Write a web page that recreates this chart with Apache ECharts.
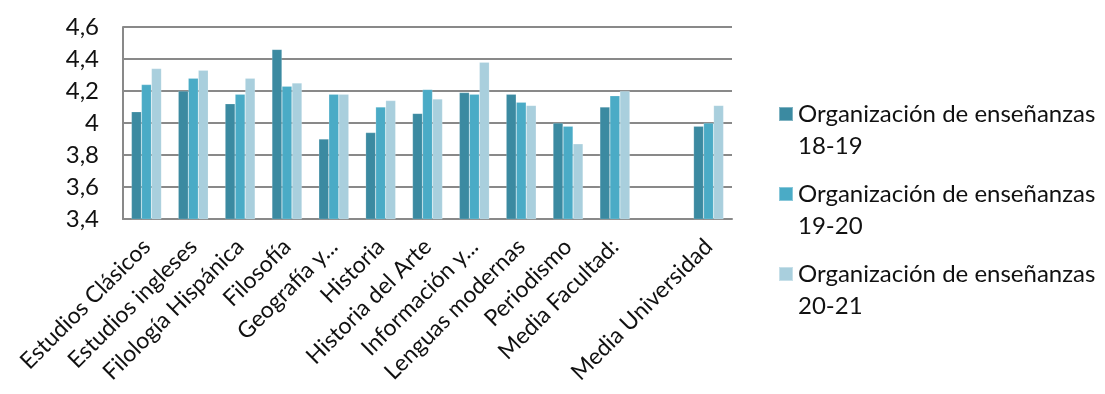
<!DOCTYPE html>
<html>
<head>
<meta charset="utf-8">
<script src="https://cdn.jsdelivr.net/npm/echarts@6/dist/echarts.min.js"></script>
<style>
html,body{margin:0;padding:0;background:#fff;}
#chart{width:1105px;height:394px;}
</style>
</head>
<body>
<div id="chart"></div>
<script>
const categories = ['Estudios Clásicos','Estudios ingleses','Filología Hispánica','Filosofía','Geografía y...','Historia','Historia del Arte','Información y...','Lenguas modernas','Periodismo','Media Facultad:','','Media Universidad'];
const seriesNames = ['Organización de enseñanzas 18-19','Organización de enseñanzas 19-20','Organización de enseñanzas 20-21'];
const values1819 = [4.07,4.20,4.12,4.46,3.90,3.94,4.06,4.19,4.18,4.00,4.10,null,3.98];
const values1920 = [4.24,4.28,4.18,4.23,4.18,4.10,4.21,4.18,4.13,3.98,4.17,null,4.00];
const values2021 = [4.34,4.33,4.28,4.25,4.18,4.14,4.15,4.38,4.11,3.87,4.20,null,4.11];
const colors = ['#3b8aa1','#4aabc6','#a9cfdd'];
const FONT = 'Lato';

const chart = echarts.init(document.getElementById('chart'));
const allValues = [values1819, values1920, values2021];
chart.setOption({
  animation:false,
  textStyle:{fontFamily:FONT},
  grid:{left:123,right:373,top:27,bottom:175,containLabel:false},
  legend:{
    orient:'vertical',
    left:773, top:61,
    itemWidth:14,itemHeight:14,
    itemGap:-16,
    icon:'rect',
    formatter:function(n){ const i=n.lastIndexOf(' '); return '\n'+n.slice(0,i)+'\n'+n.slice(i+1); },
    textStyle:{fontFamily:FONT,fontSize:24,color:'#111',lineHeight:32}
  },
  xAxis:{
    type:'category',data:categories,
    axisLine:{lineStyle:{color:'#898989',width:2}},
    axisTick:{show:false},
    axisLabel:{rotate:45,interval:0,fontFamily:FONT,fontSize:23,color:'#111',margin:24}
  },
  yAxis:{
    type:'value',min:3.4,max:4.6,interval:0.2,
    axisLine:{show:true,lineStyle:{color:'#898989',width:2}},
    splitLine:{lineStyle:{color:'#898989',width:2}},
    axisLabel:{fontFamily:FONT,fontSize:24,color:'#111',margin:24,
      formatter:function(v){return String(Number(v.toFixed(1))).replace('.',',');}}
  },
  series: seriesNames.map((name,i)=>({
    name:name,type:'bar',data:allValues[i],
    barWidth:10,barGap:'0%',
    itemStyle:{color:colors[i],borderColor:'rgba(255,255,255,0.35)',borderWidth:0.5}
  }))
});
</script>
</body>
</html>
